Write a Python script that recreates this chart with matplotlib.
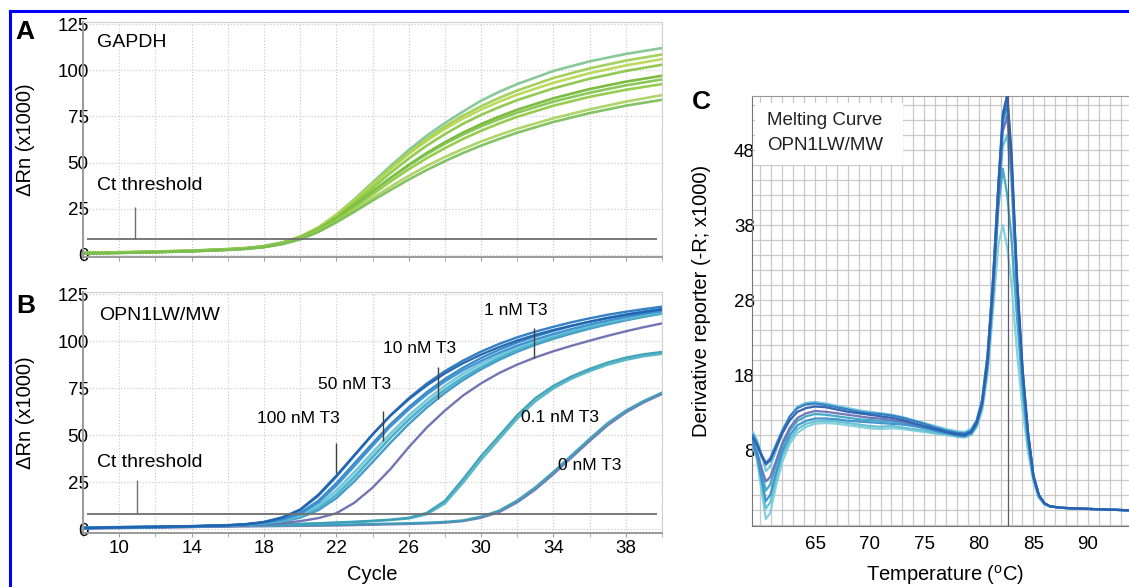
import matplotlib
matplotlib.use('Agg')
import matplotlib.pyplot as plt
from matplotlib.lines import Line2D
from matplotlib.patches import Rectangle
from matplotlib.ticker import MultipleLocator, FixedLocator

plt.rcParams['font.family'] = ['Liberation Sans', 'DejaVu Sans']

# ---------------- panel A : GAPDH amplification plots ----------------
CYCLES_A = [8, 10, 12, 14, 16, 17, 18, 19, 20, 21, 22, 23, 24, 25, 26, 27, 28, 29, 30, 31, 32, 34, 36, 38, 40]

gapdh_1 = [1.0, 1.3, 1.7, 2.2, 3.0, 3.6, 4.6, 6.6, 9.8, 14.8, 21.8, 30.2, 39.2, 48.2, 56.8, 64.6, 71.4, 77.6, 83.5, 88.3, 92.5, 99.6, 104.8, 108.8, 112.0]
gapdh_2 = [0.9, 1.2, 1.6, 2.1, 2.9, 3.5, 4.5, 6.4, 9.5, 14.3, 21.0, 29.2, 38.0, 46.8, 55.2, 62.8, 69.5, 75.4, 80.5, 85.0, 89.0, 95.8, 101.0, 105.2, 108.5]
gapdh_3 = [1.1, 1.4, 1.8, 2.3, 3.1, 3.7, 4.7, 6.7, 9.9, 14.9, 21.6, 29.6, 38.2, 46.6, 54.6, 61.8, 68.2, 73.8, 78.7, 83.0, 86.8, 93.2, 98.4, 102.6, 106.0]
gapdh_4 = [0.8, 1.1, 1.5, 2.0, 2.8, 3.4, 4.4, 6.2, 9.2, 13.8, 20.2, 28.0, 36.3, 44.5, 52.2, 59.2, 65.4, 71.0, 75.8, 80.0, 83.8, 90.2, 95.4, 99.6, 103.0]
gapdh_5 = [1.0, 1.3, 1.7, 2.2, 3.0, 3.6, 4.5, 6.3, 9.2, 13.6, 19.6, 26.8, 34.4, 41.8, 48.8, 55.2, 61.0, 66.2, 70.8, 74.9, 78.6, 84.8, 89.8, 93.8, 97.0]
gapdh_6 = [1.2, 1.5, 1.9, 2.4, 3.2, 3.8, 4.8, 6.7, 9.6, 14.0, 20.0, 27.0, 34.4, 41.6, 48.4, 54.6, 60.2, 65.2, 69.6, 73.5, 77.0, 83.0, 87.8, 91.8, 95.0]
gapdh_7 = [0.9, 1.2, 1.6, 2.1, 2.9, 3.4, 4.3, 6.0, 8.8, 13.0, 18.8, 25.6, 32.8, 39.8, 46.4, 52.4, 57.8, 62.8, 67.2, 71.2, 74.8, 80.8, 85.6, 89.4, 92.5]
gapdh_8 = [1.0, 1.3, 1.7, 2.2, 2.9, 3.5, 4.4, 6.1, 8.8, 12.9, 18.3, 24.4, 30.8, 37.0, 42.8, 48.2, 53.0, 57.4, 61.4, 65.0, 68.3, 74.0, 78.8, 83.0, 86.5]
gapdh_9 = [0.8, 1.1, 1.5, 2.0, 2.7, 3.3, 4.2, 5.8, 8.4, 12.4, 17.6, 23.4, 29.4, 35.2, 40.8, 46.0, 50.8, 55.2, 59.2, 62.8, 66.2, 72.0, 76.8, 80.8, 84.0]
GAPDH_CURVES = [gapdh_1, gapdh_2, gapdh_3, gapdh_4, gapdh_5, gapdh_6, gapdh_7, gapdh_8, gapdh_9]
GAPDH_COLORS = ['#7cc38e', '#9acd4c', '#b5d64a', '#86c540', '#6db52c', '#7fc24a', '#8cc83c', '#a6d15a', '#76bd52']
CT_THRESHOLD_A = 8.6

# ---------------- panel B : OPN1LW/MW amplification plots ----------------
CYCLES_B = [8, 10, 12, 14, 16, 17, 18, 19, 20, 21, 22, 23, 24, 25, 26, 27, 28, 29, 30, 31, 32, 33, 34, 35, 36, 37, 38, 39, 40]

t3_100_a = [0.6, 0.9, 1.2, 1.5, 2.0, 2.6, 3.8, 6.2, 10.4, 18.2, 28.4, 39.4, 50.4, 60.4, 69.0, 76.4, 82.8, 88.2, 92.8, 96.8, 100.3, 103.3, 105.9, 108.2, 110.3, 112.2, 113.9, 115.4, 116.8]
t3_100_b = [0.4, 0.8, 1.1, 1.4, 1.9, 2.5, 3.6, 5.9, 10.0, 17.6, 27.8, 39.0, 50.2, 60.6, 69.6, 77.4, 84.0, 89.6, 94.4, 98.5, 102.0, 105.0, 107.6, 110.0, 112.1, 114.0, 115.6, 117.0, 118.3]
t3_50_a = [0.5, 0.8, 1.1, 1.4, 1.9, 2.4, 3.3, 5.0, 8.0, 14.0, 23.0, 33.5, 44.2, 54.6, 63.6, 71.6, 78.5, 84.4, 89.4, 93.8, 97.6, 100.9, 103.8, 106.4, 108.8, 110.9, 112.8, 114.5, 116.0]
t3_50_b = [0.7, 1.0, 1.3, 1.6, 2.1, 2.6, 3.5, 5.3, 8.6, 15.0, 24.4, 35.0, 45.6, 55.8, 64.8, 72.8, 79.8, 85.8, 91.0, 95.4, 99.2, 102.5, 105.4, 108.0, 110.3, 112.4, 114.2, 115.8, 117.2]
t3_50_c = [0.6, 0.9, 1.2, 1.5, 2.0, 2.5, 3.3, 4.8, 7.4, 12.6, 20.6, 30.4, 40.8, 51.0, 60.4, 68.8, 76.2, 82.6, 88.0, 92.6, 96.6, 100.0, 103.0, 105.7, 108.1, 110.3, 112.2, 114.0, 115.6]
t3_10_a = [0.5, 0.8, 1.1, 1.4, 1.8, 2.3, 3.0, 4.2, 6.5, 11.0, 18.0, 27.5, 38.0, 48.5, 58.0, 66.5, 74.0, 80.5, 86.0, 91.0, 95.2, 98.8, 102.0, 104.8, 107.3, 109.5, 111.5, 113.2, 114.8]
t3_10_b = [0.6, 0.9, 1.2, 1.5, 1.9, 2.4, 3.1, 4.3, 6.8, 11.6, 19.0, 28.6, 39.0, 49.2, 58.6, 67.0, 74.5, 81.0, 86.6, 91.4, 95.6, 99.2, 102.3, 105.1, 107.6, 109.8, 111.8, 113.6, 115.2]
t3_1_a = [0.3, 0.5, 0.8, 1.1, 1.5, 1.9, 2.5, 3.2, 4.2, 5.8, 8.4, 14.0, 22.0, 32.0, 43.5, 54.0, 63.0, 71.0, 77.5, 83.0, 87.5, 91.3, 94.6, 97.5, 100.2, 102.8, 105.2, 107.4, 109.4]
t3_1_b = [0.5, 0.8, 1.1, 1.4, 1.8, 2.3, 3.0, 4.0, 6.0, 10.0, 16.4, 25.4, 35.6, 46.0, 55.8, 64.6, 72.4, 79.2, 85.0, 90.0, 94.3, 98.0, 101.2, 104.0, 106.6, 108.9, 111.0, 112.9, 114.6]
t3_01_a = [0.8, 1.0, 1.2, 1.5, 1.8, 2.0, 2.2, 2.5, 2.8, 3.1, 3.5, 3.9, 4.4, 5.0, 6.0, 8.6, 15.0, 26.5, 38.8, 49.6, 60.6, 69.6, 76.2, 81.2, 85.2, 88.6, 91.2, 93.0, 94.2]
t3_01_b = [0.6, 0.8, 1.0, 1.3, 1.6, 1.8, 2.0, 2.3, 2.6, 2.9, 3.3, 3.7, 4.2, 4.8, 5.6, 7.8, 13.6, 24.6, 36.8, 47.8, 58.8, 68.0, 74.8, 80.0, 84.0, 87.4, 90.0, 91.9, 93.2]
t3_0_a = [0.9, 1.1, 1.3, 1.5, 1.7, 1.8, 1.9, 2.0, 2.1, 2.2, 2.3, 2.5, 2.7, 2.9, 3.1, 3.4, 3.8, 4.6, 6.6, 9.8, 15.2, 22.2, 30.4, 39.2, 48.0, 56.4, 63.0, 68.2, 72.6]
t3_0_b = [0.5, 0.7, 0.9, 1.1, 1.3, 1.4, 1.5, 1.6, 1.7, 1.8, 1.9, 2.1, 2.3, 2.5, 2.7, 3.0, 3.4, 4.2, 6.0, 9.0, 14.2, 21.0, 29.2, 38.0, 46.8, 55.2, 62.0, 67.4, 71.8]
OPN_CURVES = [t3_0_b, t3_0_a, t3_01_b, t3_01_a, t3_1_a, t3_1_b, t3_10_b, t3_10_a,
              t3_50_c, t3_50_b, t3_50_a, t3_100_b, t3_100_a]
OPN_COLORS = ['#6d79b6', '#3d9cb8', '#4fb3c6', '#3a9fb6', '#6a6caf', '#3b96c9', '#82d0dc', '#4aaec8',
              '#6cc3d8', '#2f86c8', '#3a8fd0', '#2a78c2', '#1f63ad']
CT_THRESHOLD_B = 8.0

T3_LABELS = ['100 nM T3', '50 nM T3', '10 nM T3', '1 nM T3', '0.1 nM T3', '0 nM T3']
T3_LABEL_POS = [(19.9, 59.0), (23.0, 77.1), (26.6, 96.3), (31.9, 116.5), (34.35, 59.6), (36.0, 34.0)]
# pointer lines: cycle, lower end, upper end
T3_POINTERS = [(22.0, 30, 46), (24.6, 47, 63), (27.6, 69, 86), (32.9, 91, 107)]

# ---------------- panel C : melting curves ----------------
TEMPS = [59.3, 59.7, 60.1, 60.5, 60.9, 61.4, 62.0, 62.7, 63.4, 64.2, 65.0, 66, 67, 68, 69, 70, 71, 72, 73, 74,
         75, 76, 77, 78, 78.7, 79.3, 79.8, 80.3, 80.8, 81.3, 81.8, 82.2, 82.6, 83.0, 83.5, 84.0, 84.5, 85.0,
         85.5, 86.0, 86.5, 87.5, 89, 91, 93, 95]

melt_1 = [9.6, 8.6, 7.2, 6.1, 6.6, 8.2, 10.2, 12.0, 13.1, 13.6, 13.8, 13.7, 13.4, 13.1, 12.9, 12.7, 12.5, 12.3, 12.0, 11.6, 11.2, 10.8, 10.4, 10.1, 10.0, 10.4, 11.6, 14.2, 20.0, 30.0, 43.0, 52.5, 55.5, 47.5, 31.0, 19.0, 10.5, 4.6, 2.0, 0.9, 0.5, 0.3, 0.2, 0.1, 0.0, -0.1]
melt_2 = [10.0, 8.9, 7.4, 6.3, 6.9, 8.6, 10.6, 12.5, 13.6, 14.1, 14.2, 14.0, 13.7, 13.4, 13.1, 12.9, 12.8, 12.6, 12.3, 11.9, 11.5, 11.0, 10.6, 10.3, 10.2, 10.6, 11.9, 14.6, 20.6, 30.8, 43.5, 52.0, 54.0, 46.0, 30.0, 18.2, 10.0, 4.4, 1.9, 0.9, 0.5, 0.3, 0.2, 0.1, 0.0, -0.1]
melt_3 = [9.0, 7.6, 5.6, 3.8, 4.4, 6.4, 8.9, 11.0, 12.3, 12.9, 13.2, 13.1, 12.9, 12.7, 12.5, 12.3, 12.2, 12.0, 11.8, 11.4, 11.0, 10.6, 10.3, 10.0, 9.9, 10.3, 11.5, 14.0, 19.5, 29.0, 41.5, 50.5, 52.5, 45.0, 29.5, 18.0, 10.0, 4.5, 2.0, 0.9, 0.5, 0.3, 0.2, 0.1, 0.0, -0.1]
melt_4 = [9.3, 7.8, 5.0, 2.6, 3.4, 5.8, 8.5, 10.6, 11.9, 12.5, 12.8, 12.7, 12.5, 12.3, 12.1, 12.0, 11.9, 11.8, 11.6, 11.3, 11.0, 10.6, 10.3, 10.0, 9.9, 10.2, 11.3, 13.8, 19.0, 28.5, 40.5, 45.5, 42.0, 36.0, 25.5, 16.0, 9.0, 4.2, 1.8, 0.8, 0.5, 0.3, 0.2, 0.1, 0.0, -0.1]
melt_5 = [8.6, 6.6, 2.6, -1.2, -0.4, 3.0, 6.4, 8.9, 10.3, 11.1, 11.5, 11.6, 11.5, 11.3, 11.1, 10.9, 10.8, 10.9, 10.8, 10.6, 10.4, 10.2, 10.0, 9.8, 9.7, 10.0, 11.0, 13.2, 18.0, 26.5, 35.5, 38.0, 35.0, 30.0, 21.0, 13.5, 7.8, 3.7, 1.6, 0.8, 0.5, 0.3, 0.2, 0.1, 0.0, -0.1]
melt_6 = [10.4, 9.3, 7.4, 5.2, 5.8, 7.8, 10.3, 12.5, 13.8, 14.3, 14.4, 14.2, 13.9, 13.6, 13.3, 13.1, 12.9, 12.7, 12.4, 12.0, 11.6, 11.2, 10.8, 10.5, 10.4, 10.8, 12.0, 14.8, 20.8, 31.0, 43.5, 51.5, 53.0, 45.5, 30.5, 18.6, 10.3, 4.6, 2.0, 0.9, 0.5, 0.3, 0.2, 0.1, 0.0, -0.1]
melt_7 = [8.8, 7.2, 4.2, 1.2, 2.0, 4.8, 7.8, 10.0, 11.3, 11.9, 12.2, 12.2, 12.1, 11.9, 11.8, 11.7, 11.6, 11.5, 11.4, 11.2, 10.9, 10.6, 10.3, 10.0, 9.9, 10.3, 11.6, 14.4, 20.4, 30.6, 43.8, 53.0, 55.0, 47.0, 30.6, 18.8, 10.4, 4.6, 2.0, 0.9, 0.5, 0.3, 0.2, 0.1, 0.0, -0.1]
melt_8 = [8.7, 7.0, 3.6, 0.2, 1.0, 4.0, 7.2, 9.4, 10.8, 11.5, 11.8, 11.9, 11.8, 11.6, 11.4, 11.2, 11.1, 11.2, 11.0, 10.8, 10.6, 10.3, 10.1, 9.8, 9.7, 10.1, 11.3, 14.0, 19.8, 29.5, 41.5, 48.5, 50.0, 43.5, 29.0, 17.8, 9.8, 4.4, 1.9, 0.9, 0.5, 0.3, 0.2, 0.1, 0.0, -0.1]
MELT_CURVES = [melt_5, melt_8, melt_4, melt_6, melt_3, melt_7, melt_2, melt_1]
MELT_COLORS = ['#7fcfdc', '#5fc0d0', '#3aa7c4', '#6fc7dd', '#6b70b8', '#3c8fd0', '#2f7cc4', '#2a5fae']
MELT_TM = 82.7

FIG_W, FIG_H = 1129, 587


def fig_box(left, top, right, bottom):
    """pixel box -> figure fraction rect"""
    return [left / FIG_W, 1 - bottom / FIG_H, (right - left) / FIG_W, (bottom - top) / FIG_H]


def style_amp_axes(ax, ylim, show_x):
    ax.set_xlim(8, 40)
    ax.set_ylim(*ylim)
    ax.set_yticks([0, 25, 50, 75, 100, 125])
    ax.xaxis.set_major_locator(FixedLocator([10, 14, 18, 22, 26, 30, 34, 38]))
    ax.xaxis.set_minor_locator(MultipleLocator(2))
    ax.set_axisbelow(True)
    ax.grid(which='both', axis='x', color='#cfcfcf', linestyle=(0, (1, 1.5)), lw=0.9)
    ax.grid(which='major', axis='y', color='#cfcfcf', linestyle=(0, (1, 1.5)), lw=0.9)
    ax.tick_params(axis='y', length=0, pad=-4, labelsize=13.5)
    ax.tick_params(axis='x', which='both', length=3, color='#a0a0a0', pad=2,
                   labelsize=13.5, labelbottom=show_x)
    for side in ['left', 'bottom']:
        ax.spines[side].set_color('#9a9a9a')
        ax.spines[side].set_linewidth(1.4)
    for side in ['top', 'right']:
        ax.spines[side].set_color('#d0d0d0')
        ax.spines[side].set_linewidth(0.8)
    ax.set_ylabel('ΔRn (x1000)', fontsize=14.5)
    ax.yaxis.label.set_va('center')
    ax.yaxis.set_label_coords(-0.1, 0.5)


def draw_panel_a(fig):
    ax = fig.add_axes(fig_box(83, 22, 662, 257))
    for vals, col in zip(GAPDH_CURVES, GAPDH_COLORS):
        ax.plot(CYCLES_A, vals, color=col, lw=1.9, alpha=0.9)
    style_amp_axes(ax, (-1.1, 126.1), show_x=False)
    ax.hlines(CT_THRESHOLD_A, 8.2, 39.7, color='#6e6e6e', lw=1.3, zorder=3)
    ax.vlines(10.9, CT_THRESHOLD_A, 25.9, color='#6e6e6e', lw=1.0)
    ax.text(8.75, 37.8, 'Ct threshold', fontsize=14, va='center', ha='left')
    ax.text(8.8, 115, 'GAPDH', fontsize=14, va='center', ha='left')
    return ax


def draw_panel_b(fig):
    ax = fig.add_axes(fig_box(83, 292, 662, 533))
    for vals, col in zip(OPN_CURVES, OPN_COLORS):
        ax.plot(CYCLES_B, vals, color=col, lw=1.7, alpha=0.95)
    style_amp_axes(ax, (-2.1, 126.1), show_x=True)
    ax.hlines(CT_THRESHOLD_B, 8.2, 39.7, color='#6e6e6e', lw=1.3, zorder=3)
    ax.vlines(11.0, CT_THRESHOLD_B, 26, color='#6e6e6e', lw=1.0)
    ax.text(8.8, 35.6, 'Ct threshold', fontsize=14, va='center', ha='left')
    ax.text(8.9, 113.8, 'OPN1LW/MW', fontsize=14, va='center', ha='left')
    for lab, (x, y) in zip(T3_LABELS, T3_LABEL_POS):
        ax.text(x, y, lab, fontsize=12.5, ha='center', va='center')
    for x, y0, y1 in T3_POINTERS:
        ax.vlines(x, y0, y1, color='#404040', lw=1.0, zorder=4)
    ax.set_xlabel('Cycle', fontsize=14.5)
    ax.xaxis.label.set_va('center')
    ax.xaxis.set_label_coords(0.5, -0.174)
    return ax


def draw_panel_c(fig):
    ax = fig.add_axes(fig_box(752, 96, 1140, 526))
    for vals, col in zip(MELT_CURVES, MELT_COLORS):
        ax.plot(TEMPS, vals, color=col, lw=1.6, alpha=0.95, zorder=3)
    ax.axvline(MELT_TM, color='#5a5a6a', lw=0.9, zorder=4)
    ax.set_xlim(59.23, 94.76)
    ax.set_ylim(-2.13, 55.2)
    ax.set_xticks([65, 70, 75, 80, 85, 90])
    ax.set_yticks([8, 18, 28, 38, 48])
    ax.xaxis.set_minor_locator(MultipleLocator(1))
    ax.yaxis.set_minor_locator(MultipleLocator(2))
    ax.set_axisbelow(True)
    ax.grid(which='both', color='#c9c9c9', lw=0.9)
    ax.tick_params(which='both', length=0, labelsize=13.5)
    ax.tick_params(axis='y', pad=-2)
    ax.tick_params(axis='x', pad=7)
    ax.spines['left'].set_color('#777777')
    ax.spines['bottom'].set_color('#777777')
    ax.spines['top'].set_color('#999999')
    ax.spines['right'].set_visible(False)

    # white box behind the title
    ax.add_patch(Rectangle((0.008, 0.8395), 0.381, 0.1442, transform=ax.transAxes,
                           facecolor='white', edgecolor='none', zorder=1.5))
    ax.text(0.0387, 0.944, 'Melting Curve', transform=ax.transAxes, fontsize=13.5,
            va='center', ha='left', color='#222222', zorder=5)
    ax.text(0.0387, 0.886, 'OPN1LW/MW', transform=ax.transAxes, fontsize=13.5,
            va='center', ha='left', color='#222222', zorder=5)

    ax.set_ylabel('Derivative reporter (-R; x1000)', fontsize=14.5)
    ax.yaxis.label.set_va('center')
    ax.yaxis.set_label_coords(-0.129, 0.523)
    ax.set_xlabel('Temperature ($^{\\mathregular{o}}$C)', fontsize=14.5)
    ax.xaxis.label.set_va('center')
    ax.xaxis.set_label_coords(0.497, -0.114)
    return ax


def main():
    fig = plt.figure(figsize=(FIG_W / 100, FIG_H / 100), dpi=100)

    draw_panel_a(fig)
    draw_panel_b(fig)
    draw_panel_c(fig)

    # panel letters
    fig.text(15 / FIG_W, 1 - 32 / FIG_H, 'A', fontsize=19, fontweight='bold', va='center', ha='left')
    fig.text(16 / FIG_W, 1 - 306 / FIG_H, 'B', fontsize=19, fontweight='bold', va='center', ha='left')
    fig.text(692 / FIG_W, 1 - 102 / FIG_H, 'C', fontsize=19, fontweight='bold', va='center', ha='left')

    # blue frame (top and left edges visible)
    bx, by = 9.5 / FIG_W, 1 - 11 / FIG_H
    fig.add_artist(Line2D([bx, 1.01], [by, by], color='#0000ff', lw=2.2, transform=fig.transFigure))
    fig.add_artist(Line2D([bx, bx], [-0.01, by], color='#0000ff', lw=2.2, transform=fig.transFigure))

    fig.savefig('out.png', dpi=100)


if __name__ == "__main__":
    main()
